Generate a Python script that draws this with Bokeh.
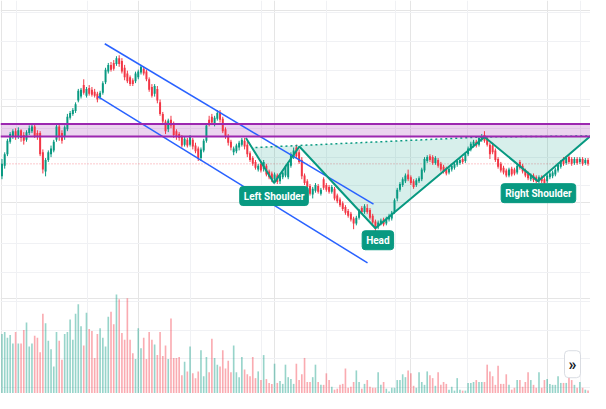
from bokeh.plotting import figure
from bokeh.models import (Range1d, Label, Span, BoxAnnotation, FixedTicker, Grid,
                          ColumnDataSource)
from bokeh.embed import file_html
from bokeh.resources import INLINE

# ---------------- data ----------------
open_ = [227,238,250,263,268,274,268,275,270,265,
         272,274,279,272,272,252,232,244,250,254,
         265,279,272,268,276,288,292,295,306,310,
         322,311,319,317,315,313,309,314,325,336,
         343,345,344,350,347,340,334,330,327,326,
         330,335,339,336,328,320,313,318,304,292,
         284,276,286,282,274,271,268,260,265,260,
         265,259,256,246,254,264,286,289,282,287,
         294,287,276,269,263,252,253,257,260,264,
         260,251,246,242,234,240,235,238,232,230,
         224,228,222,226,228,226,238,247,257,252,
         244,228,222,217,208,212,217,209,224,218,
         216,211,214,207,203,199,195,191,188,183,
         178,184,194,190,194,192,186,180,174,178,
         182,178,182,183,190,204,213,218,222,229,
         226,222,218,222,224,233,243,248,247,241,
         244,240,237,235,231,234,236,239,241,245,
         243,250,255,259,263,260,265,270,267,260,
         259,254,245,240,236,233,228,235,234,231,
         242,238,233,230,224,228,226,222,226,224,
         222,226,227,229,233,237,245,241,247,245,
         241,245,242,245,241,244]
close = [240,250,264,271,274,268,275,267,264,273,
         277,279,269,268,250,234,244,252,256,263,
         279,269,264,278,289,293,296,302,316,317,
         314,318,313,312,311,307,314,324,338,343,
         338,339,350,344,336,330,326,323,323,334,
         336,341,334,328,317,311,321,306,292,284,
         274,285,280,270,268,267,259,266,259,268,
         258,253,246,255,264,280,281,283,288,293,
         286,274,268,262,257,256,259,262,265,258,
         250,244,240,236,238,233,242,229,226,224,
         229,221,228,231,237,240,250,254,248,242,
         227,220,216,209,214,218,211,213,215,213,
         211,216,204,201,197,193,189,186,182,178,
         184,191,190,196,190,184,179,173,179,181,
         177,183,186,189,202,213,219,224,228,224,
         220,216,223,225,234,245,247,244,241,246,
         238,234,232,230,235,238,240,243,244,242,
         250,256,261,263,259,267,269,264,260,250,
         252,244,237,233,231,228,234,229,230,238,
         236,232,228,225,228,223,222,226,222,220,
         228,230,231,234,239,242,240,246,242,240,
         245,241,245,240,244,240]
high = [245,252,266,273,276,277,278,276,273,275,
        280,281,282,275,274,255,246,254,259,265,
        281,281,275,280,292,295,298,304,318,319,
        328,320,322,320,318,315,316,326,340,345,
        346,348,352,353,350,343,337,332,329,336,
        338,343,341,338,330,323,323,321,307,294,
        286,287,290,284,276,273,270,268,267,270,
        267,262,258,257,266,282,290,292,290,296,
        296,289,278,271,265,258,261,264,267,267,
        263,253,248,244,240,243,244,240,234,232,
        231,230,230,233,239,242,252,257,260,255,
        247,230,224,219,216,220,219,215,226,220,
        218,218,216,209,205,201,197,193,190,185,
        186,193,196,198,198,194,188,182,181,183,
        184,185,188,191,204,215,221,226,230,234,
        228,224,225,227,236,247,249,250,249,248,
        246,242,239,237,237,240,242,245,246,247,
        252,258,263,265,265,269,271,274,269,262,
        262,256,247,242,238,235,236,237,236,240,
        244,240,235,232,230,230,228,228,228,226,
        230,232,233,236,241,244,247,248,249,247,
        247,247,247,247,246,246]
low = [224,235,248,261,266,265,266,263,260,263,
       270,272,267,265,248,230,227,242,247,252,
       263,264,261,265,274,286,290,293,304,308,
       312,309,311,310,309,304,307,312,323,334,
       336,337,342,341,334,327,324,321,321,324,
       328,333,332,326,315,309,310,303,290,281,
       271,273,277,267,265,264,257,258,257,258,
       255,251,243,243,252,262,279,281,279,285,
       283,272,266,259,254,249,251,254,258,255,
       247,242,238,234,232,231,232,227,224,221,
       220,219,219,224,226,224,236,245,246,240,
       224,218,214,207,204,210,209,207,213,211,
       209,209,202,199,195,191,187,184,180,172,
       176,182,188,188,188,182,177,170,172,176,
       175,176,180,181,188,201,211,216,220,222,
       218,214,216,220,222,231,241,242,239,239,
       236,232,230,228,229,232,234,237,239,240,
       241,248,253,257,257,258,263,262,258,245,
       250,242,235,231,229,226,226,227,228,229,
       234,230,226,223,222,221,220,220,220,218,
       220,224,225,227,231,235,238,239,240,238,
       239,239,240,238,239,238]
volume = [62,64,58,61,52,64,52,52,66,74,
          49,52,60,58,43,83,73,55,46,28,
          64,55,35,62,64,77,56,83,93,
          70,50,84,67,65,37,62,68,58,49,
          80,85,72,103,98,63,56,99,56,
          42,36,68,47,58,36,64,56,51,40,
          64,39,50,36,78,37,37,38,19,
          33,23,49,21,16,23,45,18,38,22,
          57,37,30,28,45,26,34,22,50,
          22,17,38,25,20,18,38,16,23,14,
          40,15,11,10,31,11,13,10,30,17,15,10,
          31,14,20,37,12,12,17,30,12,9,
          9,21,14,7,4,5,9,10,26,
          6,7,12,24,12,5,10,14,7,6,
          6,22,9,12,5,2,6,6,14,
          14,20,17,24,21,8,6,22,12,
          9,23,19,16,8,22,9,12,10,4,
          7,3,16,4,3,3,11,11,12,
          14,12,12,12,30,23,18,9,29,10,
          10,20,9,4,6,14,14,7,12,
          22,14,9,6,22,6,14,15,10,
          9,9,18,11,11,11,21,14,9,6,
          12,6,4,3]

resistance_zone = [268.5, 281.5]
last_price = 240

channel_upper_x = [37.7, 136.3]
channel_upper_y = [365, 198]
channel_lower_x = [35.2, 134.1]
channel_lower_y = [310, 137]

pattern_x = [89.5, 99.8, 109.1, 137.0, 177.0, 196.6, 215.9]
pattern_y = [267, 220, 258, 173, 268, 222, 269]
neck_x = [93.0, 177.0, 215.9]
neck_y = [257, 268, 269]
fill_x = [91.6, 99.8, 109.1, 137.0, 177.0, 196.6, 215.9, 177.0]
fill_y = [257, 220, 258, 173, 268, 222, 269, 268]

labels = [("Left Shoulder", 99.8, 206.5), ("Head", 137.9, 160.5),
          ("Right Shoulder", 196.8, 209.5)]

time_grid = [5.18, 31.25, 69.11, 95.18, 119.11, 144.46, 170.89, 212.32]
price_grid = [7, 37, 67, 97, 127, 157, 187, 217, 247, 277, 307, 337, 367, 397]

# ---------------- figure ----------------
n = min(len(open_), len(close), len(high), len(low), len(volume))
x = list(range(n))
UP, DOWN = "#089981", "#f23645"
inc = [close[i] >= open_[i] for i in range(n)]
colors = [UP if u else DOWN for u in inc]
src = ColumnDataSource(dict(x=x, open=open_[:n], close=close[:n], high=high[:n],
                            low=low[:n], vol=volume[:n], color=colors))

p = figure(width=590, height=393, output_backend="svg", toolbar_location=None,
           x_range=Range1d(-0.54, 215.9), y_range=Range1d(1, 410),
           x_axis_location=None, y_axis_location=None, min_border=0,
           outline_line_color=None, tools="")
p.extra_y_ranges = {"vol": Range1d(0, 409)}

p.add_layout(Grid(dimension=0, ticker=FixedTicker(ticks=time_grid),
                  grid_line_color="#f0f1f4", grid_line_width=1))
p.add_layout(Grid(dimension=1, ticker=FixedTicker(ticks=price_grid),
                  grid_line_color="#f0f1f4", grid_line_width=1))

p.add_layout(BoxAnnotation(bottom=resistance_zone[0], top=resistance_zone[1],
                           fill_color="#9c27b0", fill_alpha=0.2, line_color=None,
                           level="underlay"))
p.add_layout(Span(location=last_price, dimension="width", line_color="#f23645",
                  line_alpha=0.55, line_dash="1 2", line_width=1, level="underlay"))

# volume
p.vbar(x="x", top="vol", bottom=0, width=0.6, fill_color="color", line_color=None,
       fill_alpha=0.42, source=src, y_range_name="vol")

# pattern fill
p.patch(fill_x, fill_y, fill_color="#089981", fill_alpha=0.16, line_color=None)

# candles
p.segment(x0="x", y0="high", x1="x", y1="low", line_color="color", line_width=1,
          source=src)
p.vbar(x="x", top="open", bottom="close", width=0.72, fill_color="color",
       line_color=None, source=src)

# resistance zone borders
for yv in resistance_zone:
    p.add_layout(Span(location=yv, dimension="width", line_color="#9c27b0",
                      line_width=2))

# channel
p.line(channel_upper_x, channel_upper_y, line_color="#2962ff", line_width=1.5)
p.line(channel_lower_x, channel_lower_y, line_color="#2962ff", line_width=1.5)

# head & shoulders
p.line(neck_x, neck_y, line_color="#089981", line_width=1.5, line_dash="2 3")
p.line(pattern_x, pattern_y, line_color="#089981", line_width=2)

for txt, lx, ly in labels:
    p.add_layout(Label(x=lx, y=ly, text=txt, text_color="white",
                       text_font="Roboto", text_font_size="10px",
                       text_font_style="bold", text_align="center",
                       text_baseline="middle", background_fill_color="#089981",
                       border_line_color="#089981", padding=4, border_radius=3))

p.add_layout(Label(x=209.3, y=31.5, text="»", text_color="#131722",
                   text_font="Roboto", text_font_size="16px", text_font_style="bold",
                   text_align="center", text_baseline="middle",
                   background_fill_color="white", border_line_color="#d1d4dc",
                   border_line_alpha=0.8, padding=4, border_radius=4))

open("out.html", "w").write(file_html(p, INLINE))
